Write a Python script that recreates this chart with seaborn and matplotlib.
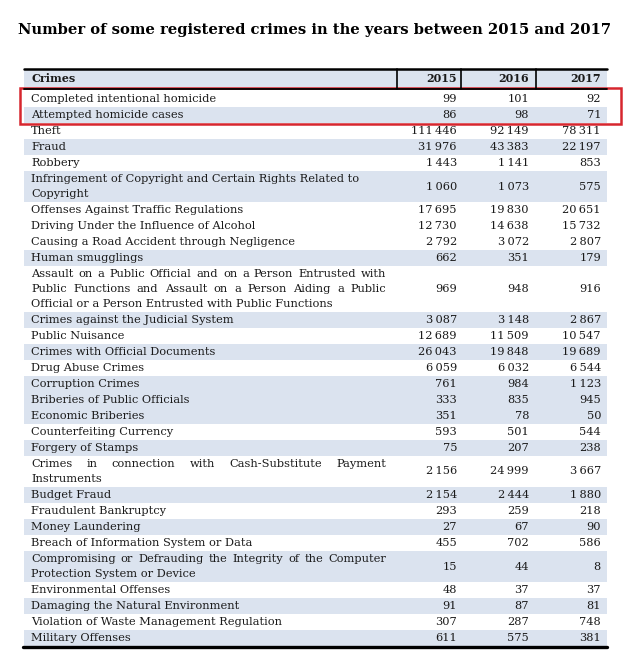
import matplotlib
matplotlib.use("Agg")
import matplotlib.pyplot as plt
import seaborn as sns

title = "Number of some registered crimes in the years between 2015 and 2017"
years = ["2015", "2016", "2017"]

crimes = [
    "Completed intentional homicide",
    "Attempted homicide cases",
    "Theft",
    "Fraud",
    "Robbery",
    "Infringement of Copyright and Certain Rights Related to\nCopyright",
    "Offenses Against Traffic Regulations",
    "Driving Under the Influence of Alcohol",
    "Causing a Road Accident through Negligence",
    "Human smugglings",
    "Assault on a Public Official and on a Person Entrusted with\n"
    "Public Functions and Assault on a Person Aiding a Public\n"
    "Official or a Person Entrusted with Public Functions",
    "Crimes against the Judicial System",
    "Public Nuisance",
    "Crimes with Official Documents",
    "Drug Abuse Crimes",
    "Corruption Crimes",
    "Briberies of Public Officials",
    "Economic Briberies",
    "Counterfeiting Currency",
    "Forgery of Stamps",
    "Crimes in connection with Cash-Substitute Payment\nInstruments",
    "Budget Fraud",
    "Fraudulent Bankruptcy",
    "Money Laundering",
    "Breach of Information System or Data",
    "Compromising or Defrauding the Integrity of the Computer\nProtection System or Device",
    "Environmental Offenses",
    "Damaging the Natural Environment",
    "Violation of Waste Management Regulation",
    "Military Offenses",
]
n2015 = [99, 86, 111446, 31976, 1443, 1060, 17695, 12730, 2792, 662, 969, 3087,
         12689, 26043, 6059, 761, 333, 351, 593, 75, 2156, 2154, 293, 27, 455,
         15, 48, 91, 307, 611]
n2016 = [101, 98, 92149, 43383, 1141, 1073, 19830, 14638, 3072, 351, 948, 3148,
         11509, 19848, 6032, 984, 835, 78, 501, 207, 24999, 2444, 259, 67, 702,
         44, 37, 87, 287, 575]
n2017 = [92, 71, 78311, 22197, 853, 575, 20651, 15732, 2807, 179, 916, 2867,
         10547, 19689, 6544, 1123, 945, 50, 544, 238, 3667, 1880, 218, 90, 586,
         8, 37, 81, 748, 381]
shaded = [0, 1, 0, 1, 0, 1, 0, 0, 0, 1, 0, 1, 0, 1, 0, 1, 1, 1, 0, 1,
          0, 1, 0, 1, 0, 1, 0, 1, 0, 1]
justified = [crimes[10], crimes[20], crimes[25]]
highlight = crimes[:2]

sns.set_theme(style="white")
plt.rcParams["font.family"] = ["DejaVu Serif"]

W, H = 630, 657
fig = plt.figure(figsize=(W / 100, H / 100), dpi=100)
ax = fig.add_axes([0, 0, 1, 1])
ax.set_xlim(0, W)
ax.set_ylim(H, 0)
ax.axis("off")
renderer = fig.canvas.get_renderer()

blue = "#dbe3ef"
ink = "#1a1a1a"
body = dict(fontsize=8.2, color=ink, va="center")

left, right = 24, 607
text_x = 31
num_right = [457, 529, 601]
seps = [397, 461, 536]


def fmt(v):
    return f"{v:,}".replace(",", "\u2009")


def put_line(s, y, stretch_to=None):
    if stretch_to is None:
        ax.text(text_x, y, s, **body)
        return
    words = s.split(" ")
    widths = []
    for w in words:
        t = ax.text(0, 0, w, **body)
        widths.append(t.get_window_extent(renderer).width)
        t.remove()
    gap = (stretch_to - text_x - sum(widths)) / (len(words) - 1)
    x = text_x
    for w, wd in zip(words, widths):
        ax.text(x, y, w, **body)
        x += wd + gap


# title
ax.text(W / 2, 30, title, fontsize=10.6, fontweight="bold", color="black",
        ha="center", va="center")

# header
head_top, head_bot = 69, 89
ax.axhspan(head_top, head_bot, xmin=left / W, xmax=right / W, color=blue, lw=0)
ax.plot([left, right], [head_top - 0.5, head_top - 0.5], color="black", lw=1.8)
ax.plot([left, right], [head_bot, head_bot], color="black", lw=1.3)
for sx in seps:
    ax.plot([sx, sx], [head_top, head_bot], color="black", lw=1.2)
ax.text(text_x, 78.5, "Crimes", fontsize=8, fontweight="bold", color=ink, va="center")
for yr, xr in zip(years, num_right):
    ax.text(xr, 78.5, yr, fontsize=8, fontweight="bold", color=ink, va="center", ha="right")

# body rows
y = 91
box_top = box_bot = None
for name, a, b, c, sh in zip(crimes, n2015, n2016, n2017, shaded):
    lines = name.split("\n")
    h = 1 + 15 * len(lines)
    if sh:
        ax.axhspan(y, y + h, xmin=left / W, xmax=right / W, color=blue, lw=0)
    for i, ln in enumerate(lines):
        last = i == len(lines) - 1
        put_line(ln, y + 8 + 15 * i,
                 stretch_to=386 if (name in justified and not last) else None)
    for v, xr in zip([a, b, c], num_right):
        ax.text(xr, y + h / 2, fmt(v), ha="right", **body)
    if name in highlight:
        box_top = y if box_top is None else box_top
        box_bot = y + h
    y += h

ax.plot([left - 1, right], [y + 1, y + 1], color="black", lw=2.4)

# red frame around the homicide rows
ax.add_patch(plt.Rectangle((20, box_top - 3), 601, box_bot - box_top + 4,
                           fill=False, edgecolor="#d7262e", lw=1.8))

fig.savefig("out.png", dpi=100)
